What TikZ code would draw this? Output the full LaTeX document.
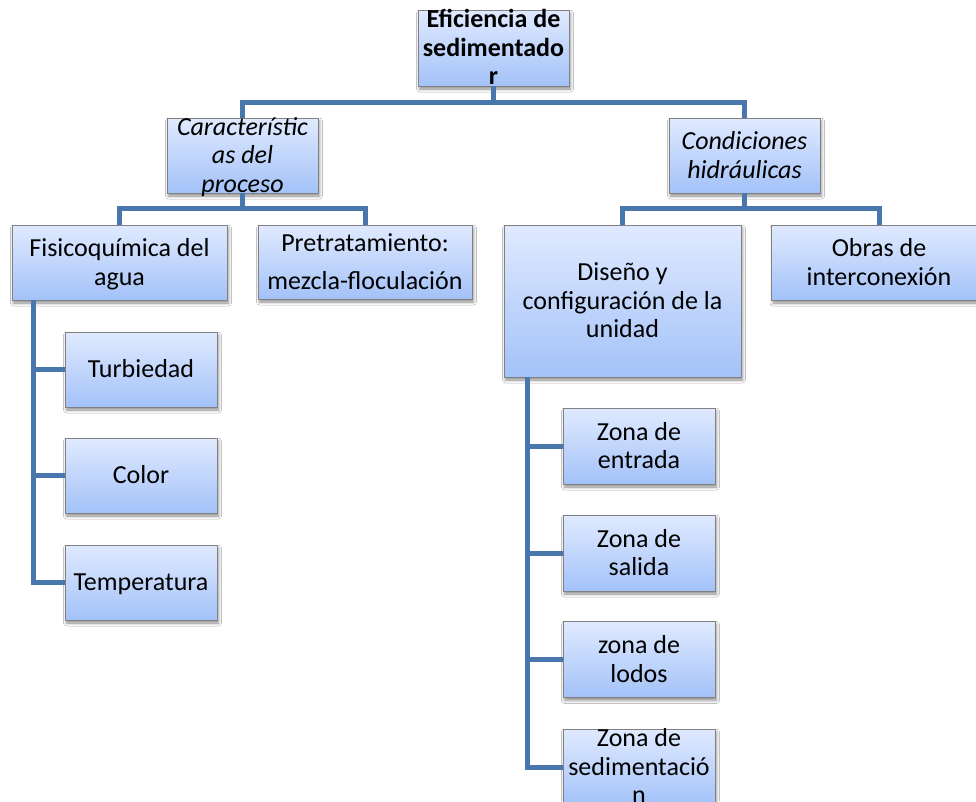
\documentclass[tikz,border=0pt]{standalone}
\usepackage{fontspec}
\setmainfont{Carlito}
\usetikzlibrary{shadows.blur}
\definecolor{linec}{RGB}{74,118,174}
\definecolor{boxtop}{RGB}{224,234,255}
\definecolor{boxbot}{RGB}{163,194,248}
\definecolor{boxline}{RGB}{128,128,128}
\newsavebox\bxsave
\newcommand\lnstrut{\rule[-5.85pt]{0pt}{28.5pt}}
\newcommand\bxtext[2]{\sbox\bxsave{\parbox{\dimexpr#1+40pt\relax}{\centering\lineskiplimit=-1000pt\baselineskip=28.5pt\lnstrut#2\lnstrut}}\makebox[0pt][c]{\raisebox{\dimexpr(\dp\bxsave-\ht\bxsave)/2\relax}[0pt][0pt]{\usebox\bxsave}}}
\tikzset{
  box/.style={rectangle, draw=boxline, line width=1pt, top color=boxtop, bottom color=boxbot,
    inner sep=0pt, outer sep=0pt,
    blur shadow={shadow xshift=1.5pt, shadow yshift=-3pt, shadow blur radius=3pt, shadow opacity=45},
    font=\fontsize{26}{28.5}\selectfont},
  boldtxt/.style={font=\fontsize{26}{28.5}\selectfont\bfseries},
  itatxt/.style={font=\fontsize{26}{28.5}\selectfont\itshape},
  conn/.style={draw=linec, line width=5pt, line join=miter},
}
\begin{document}
\begin{tikzpicture}[x=1pt,y=-1pt]
\useasboundingbox (0,0) rectangle (976,801);
\clip (0,0) rectangle (976,801);
\fill[white] (0,0) rectangle (976,801);
% level 0
\node[box, boldtxt, minimum width=151pt, minimum height=76pt] (top) at (493.5,48) {\bxtext{151pt}{Eficiencia de\\sedimentado\\r}};
% level 1
\node[box, itatxt, minimum width=151pt, minimum height=75pt] (car) at (242.5,155.5) {\bxtext{151pt}{Característic\\as del\\proceso}};
\node[box, itatxt, minimum width=151pt, minimum height=75pt] (cond) at (744.5,155.5) {\bxtext{151pt}{Condiciones\\hidráulicas}};
% level 2
\node[box, minimum width=215pt, minimum height=75pt] (fis) at (119.5,262.5) {\bxtext{215pt}{Fisicoquímica del\\agua}};
\node[box, minimum width=214pt, minimum height=74pt] (pre) at (365,262) {\bxtext{214pt}{Pretratamiento:\\[10pt]mezcla-floculación}};
\node[box, minimum width=237pt, minimum height=152pt] (dis) at (622.5,301) {\bxtext{237pt}{Diseño y\\configuración de la\\unidad}};
\node[box, minimum width=215pt, minimum height=75pt] (obr) at (879,262.5) {\bxtext{215pt}{Obras de\\interconexión}};
% level 3 left
\node[box, minimum width=152pt, minimum height=75pt] (tur) at (141,369.5) {\bxtext{152pt}{Turbiedad}};
\node[box, minimum width=152pt, minimum height=75pt] (col) at (141,475.5) {\bxtext{152pt}{Color}};
\node[box, minimum width=152pt, minimum height=75pt] (tem) at (141,582.5) {\bxtext{152pt}{Temperatura}};
% level 3 right
\node[box, minimum width=152pt, minimum height=76pt] (ent) at (639,446) {\bxtext{152pt}{Zona de\\entrada}};
\node[box, minimum width=152pt, minimum height=76pt] (sal) at (639,553) {\bxtext{152pt}{Zona de\\salida}};
\node[box, minimum width=152pt, minimum height=76pt] (lod) at (639,659.5) {\bxtext{152pt}{zona de\\lodos}};
\node[box, minimum width=152pt, minimum height=76pt] (sed) at (639,767) {\bxtext{152pt}{Zona de\\sedimentació\\n}};
% connectors
\draw[conn] (top.south) -- ++(0,16) -| (car.north);
\draw[conn] (top.south) -- ++(0,16) -| (cond.north);
\draw[conn] (car.south) -- ++(0,15.5) -| (fis.north);
\draw[conn] (car.south) -- ++(0,15.5) -| (pre.north);
\draw[conn] (cond.south) -- ++(0,15.5) -| (dis.north);
\draw[conn] (cond.south) -- ++(0,15.5) -| (obr.north);
\draw[conn] ([xshift=21.5pt]fis.south west) |- (tur.west);
\draw[conn] ([xshift=21.5pt]fis.south west) |- (col.west);
\draw[conn] ([xshift=21.5pt]fis.south west) |- (tem.west);
\draw[conn] ([xshift=23pt]dis.south west) |- (ent.west);
\draw[conn] ([xshift=23pt]dis.south west) |- (sal.west);
\draw[conn] ([xshift=23pt]dis.south west) |- (lod.west);
\draw[conn] ([xshift=23pt]dis.south west) |- (sed.west);
\end{tikzpicture}
\end{document}
